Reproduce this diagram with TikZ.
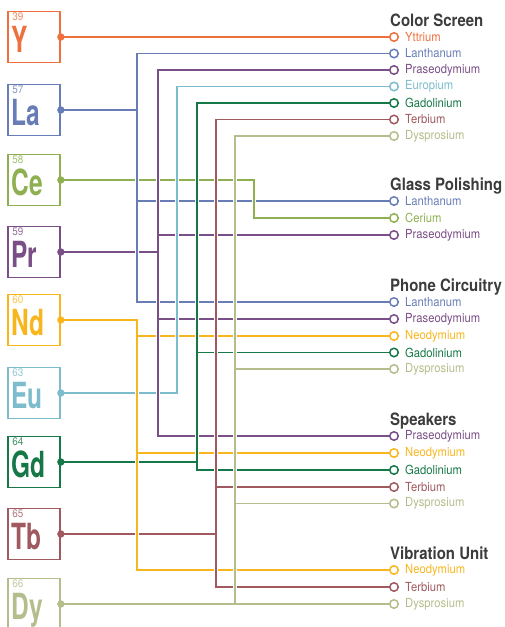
\documentclass[tikz,border=0pt]{standalone}
\usepackage{fontspec}
\setmainfont{TeX Gyre Heros}
\newfontfamily\tagfont[FakeStretch=0.9]{TeX Gyre Heros}
\newfontfamily\symfont[FakeStretch=0.68]{TeX Gyre Heros}
\newfontfamily\headfont[FakeStretch=0.88]{TeX Gyre Heros}
\usetikzlibrary{positioning}

\definecolor{cY}{RGB}{238,112,62}
\definecolor{cLa}{RGB}{104,125,182}
\definecolor{cCe}{RGB}{142,176,80}
\definecolor{cPr}{RGB}{122,78,134}
\definecolor{cNd}{RGB}{248,182,30}
\definecolor{cEu}{RGB}{125,188,204}
\definecolor{cGd}{RGB}{22,120,70}
\definecolor{cTb}{RGB}{160,90,95}
\definecolor{cDy}{RGB}{180,190,140}
\definecolor{headgray}{RGB}{60,60,60}

\tikzset{
  elbox/.style={draw=#1, line width=1.7pt, minimum width=52pt, minimum height=51pt, inner sep=0pt},
  nr/.style={text=#1!80, font=\tagfont\fontsize{11}{12}\selectfont, anchor=base west, inner sep=0pt, xshift=5pt, yshift=17pt},
  sym/.style={text=#1, font=\symfont\bfseries\fontsize{36}{40}\selectfont, anchor=base west, inner sep=0pt, xshift=4pt, yshift=-15.5pt},
  wire/.style={draw=#1, line width=1.4pt, line cap=rect},
  bus/.style={draw=#1, line width=1.4pt, line cap=rect, preaction={draw=white, line width=4.6pt, line cap=butt}},
  ring/.style={circle, draw=#1, fill=white, line width=1.5pt, minimum size=8.5pt, inner sep=0pt},
  tag/.style={text=#1, font=\tagfont\fontsize{12.5}{13}\selectfont, inner sep=1pt},
  head/.style={text=headgray, font=\headfont\bfseries\fontsize{17}{19}\selectfont, anchor=base west, inner sep=0pt},
}

\begin{document}
\begin{tikzpicture}[x=1pt, y=-1pt]
  \useasboundingbox (0,0) rectangle (504,627);
  \clip (0,0) rectangle (504,627);

  % bus positions
  \coordinate (busLa) at (137,0);
  \coordinate (busNd) at (137,0);
  \coordinate (busPr) at (158,0);
  \coordinate (busEu) at (177,0);
  \coordinate (busGd) at (197,0);
  \coordinate (busTb) at (216,0);
  \coordinate (busDy) at (235,0);
  \coordinate (busCe) at (254,0);

  % element boxes
  \foreach \el/\nr/\y in {Y/39/37, La/57/110, Ce/58/180, Pr/59/252, Nd/60/320, Eu/63/393, Gd/64/462, Tb/65/534, Dy/66/604}{
    \node[elbox=c\el] (box-\el) at (34,\y) {};
    \node[nr=c\el] (nr-\el) at (box-\el.west) {\nr};
    \node[sym=c\el] (sym-\el) at (box-\el.west) {\el};
    \fill[c\el] (box-\el.east) circle (3.7pt);
  }

  % color screen
  \node[head] (cs) at (390,26) {Color Screen};
  \foreach \el/\lbl/\y in {Y/Yttrium/37, La/Lanthanum/53.5, Pr/Praseodymium/70, Eu/Europium/86.5, Gd/Gadolinium/103, Tb/Terbium/119.5, Dy/Dysprosium/136}{
    \node[ring=c\el] (cs-\el) at (394,\y) {};
    \node[tag=c\el, right=5pt of cs-\el] (cs-\el-t) {\lbl};
  }

  % glass polishing
  \node[head] (gp) at (390,190) {Glass Polishing};
  \foreach \el/\lbl/\y in {La/Lanthanum/201, Ce/Cerium/218, Pr/Praseodymium/235}{
    \node[ring=c\el] (gp-\el) at (394,\y) {};
    \node[tag=c\el, right=5pt of gp-\el] (gp-\el-t) {\lbl};
  }

  % phone circuitry
  \node[head] (pc) at (390,291) {Phone Circuitry};
  \foreach \el/\lbl/\y in {La/Lanthanum/302, Pr/Praseodymium/319, Nd/Neodymium/336, Gd/Gadolinium/352.5, Dy/Dysprosium/369}{
    \node[ring=c\el] (pc-\el) at (394,\y) {};
    \node[tag=c\el, right=5pt of pc-\el] (pc-\el-t) {\lbl};
  }

  % speakers
  \node[head] (sp) at (390,425) {Speakers};
  \foreach \el/\lbl/\y in {Pr/Praseodymium/436, Nd/Neodymium/453, Gd/Gadolinium/470, Tb/Terbium/487, Dy/Dysprosium/503.5}{
    \node[ring=c\el] (sp-\el) at (394,\y) {};
    \node[tag=c\el, right=5pt of sp-\el] (sp-\el-t) {\lbl};
  }

  % vibration unit
  \node[head] (vu) at (390,559) {Vibration Unit};
  \foreach \el/\lbl/\y in {Nd/Neodymium/570, Tb/Terbium/587, Dy/Dysprosium/604}{
    \node[ring=c\el] (vu-\el) at (394,\y) {};
    \node[tag=c\el, right=5pt of vu-\el] (vu-\el-t) {\lbl};
  }

  % feeders from the boxes
  \draw[wire=cY] (box-Y.east) -- (cs-Y);
  \foreach \el in {La, Ce, Pr, Nd, Eu, Gd, Tb}
    \draw[wire=c\el] (box-\el.east) -- (box-\el.east -| bus\el);

  % lanthanum
  \draw[bus=cLa] (cs-La -| busLa) -- (pc-La -| busLa);
  \foreach \g in {cs, gp, pc}
    \draw[wire=cLa] (\g-La -| busLa) -- (\g-La);
  \draw[wire=cLa] (box-La.east -| busLa) -- ++(-3,0);

  % neodymium
  \draw[bus=cNd] (box-Nd.east -| busNd) -- (vu-Nd -| busNd);
  \foreach \g in {pc, sp, vu}
    \draw[wire=cNd] (\g-Nd -| busNd) -- (\g-Nd);
  \draw[wire=cNd] (box-Nd.east -| busNd) -- ++(-3,0);

  % praseodymium
  \draw[bus=cPr] (cs-Pr -| busPr) -- (sp-Pr -| busPr);
  \foreach \g in {cs, gp, pc, sp}
    \draw[wire=cPr] (\g-Pr -| busPr) -- (\g-Pr);
  \draw[wire=cPr] (box-Pr.east -| busPr) -- ++(-3,0);

  % europium
  \draw[bus=cEu] (cs-Eu -| busEu) -- (box-Eu.east -| busEu);
  \draw[wire=cEu] (cs-Eu -| busEu) -- (cs-Eu);
  \draw[wire=cEu] (box-Eu.east -| busEu) -- ++(-3,0);

  % gadolinium
  \draw[bus=cGd] (cs-Gd -| busGd) -- (sp-Gd -| busGd);
  \foreach \g in {cs, pc, sp}
    \draw[wire=cGd] (\g-Gd -| busGd) -- (\g-Gd);
  \draw[wire=cGd] (box-Gd.east -| busGd) -- ++(-3,0);

  % terbium
  \draw[bus=cTb] (cs-Tb -| busTb) -- (vu-Tb -| busTb);
  \foreach \g in {cs, sp, vu}
    \draw[wire=cTb] (\g-Tb -| busTb) -- (\g-Tb);
  \draw[wire=cTb] (box-Tb.east -| busTb) -- ++(-3,0);

  % dysprosium
  \draw[bus=cDy] (cs-Dy -| busDy) -- (vu-Dy -| busDy);
  \foreach \g in {cs, pc, sp}
    \draw[wire=cDy] (\g-Dy -| busDy) -- (\g-Dy);
  \draw[wire=cDy] (box-Dy.east) -- (vu-Dy);

  % cerium
  \draw[bus=cCe] (box-Ce.east -| busCe) -- (gp-Ce -| busCe);
  \draw[wire=cCe] (gp-Ce -| busCe) -- (gp-Ce);
  \draw[wire=cCe] (box-Ce.east -| busCe) -- ++(-3,0);
\end{tikzpicture}
\end{document}
